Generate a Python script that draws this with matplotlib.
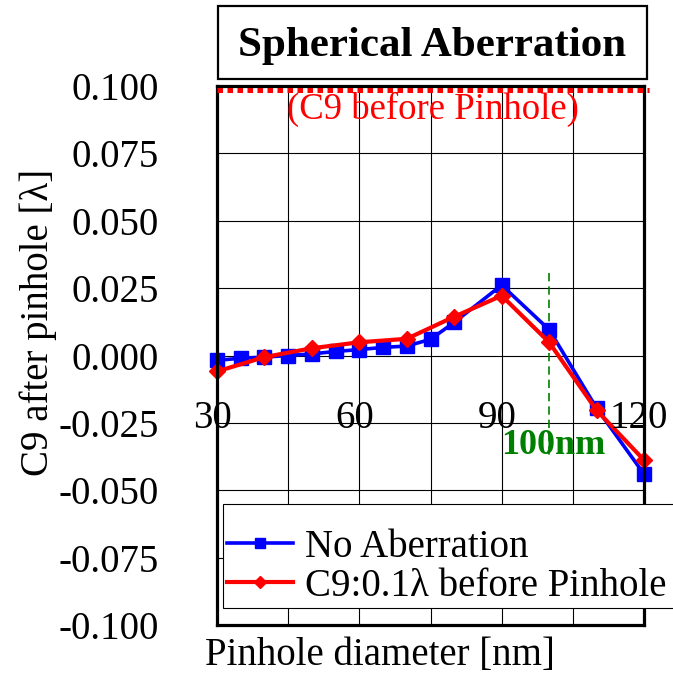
import matplotlib
matplotlib.use("Agg")
from matplotlib import pyplot as plt
from matplotlib.patches import Rectangle
import matplotlib.transforms as mtransforms
import numpy as np

plt.rcParams['font.family'] = ['Liberation Serif', 'DejaVu Serif']

# data
x_blue = [30, 35, 40, 45, 50, 55, 60, 65, 70, 75, 80, 90, 100, 110, 120]
y_blue = [-0.0018, -0.0010, -0.0006, 0.0000, 0.0006, 0.0015, 0.0022, 0.0030,
          0.0035, 0.0060, 0.0123, 0.0261, 0.0096, -0.0195, -0.0440]
x_red = [30, 40, 50, 60, 70, 80, 90, 100, 110, 120]
y_red = [-0.0059, -0.0006, 0.0027, 0.0049, 0.0062, 0.0144, 0.0222, 0.0049,
         -0.0203, -0.0388]
before_level = 0.100
pinhole_mark = 100
x_ticks = [30, 60, 90, 120]
y_ticks = [-0.100, -0.075, -0.050, -0.025, 0.000, 0.025, 0.050, 0.075, 0.100]

W, H = 673, 676
fig = plt.figure(figsize=(W / 100, H / 100), dpi=100)
ax = fig.add_axes([217 / W, 1 - 625 / H, 427 / W, 539 / H])

ax.set_xlim(30, 120)
ax.set_ylim(-0.100, 0.100)

# grid
ax.set_xticks(np.arange(30, 121, 15))
ax.set_yticks(y_ticks)
ax.grid(True, color='black', linewidth=0.8, zorder=0)
ax.tick_params(axis='both', length=0)
ax.tick_params(axis='x', labelbottom=False)
ax.set_yticklabels([f"{v:.3f}" for v in y_ticks], fontsize=28)
ax.tick_params(axis='y', pad=42)
for s in ax.spines.values():
    s.set_linewidth(2.3)
    s.set_color('black')
    s.set_zorder(5)

line1, = ax.plot(x_blue, y_blue, color='blue', marker='s', markersize=10.5,
                 linewidth=2.6, zorder=3, clip_on=False)
line2, = ax.plot(x_red, y_red, color='red', marker='D', markersize=8.5,
                 linewidth=3.0, zorder=4, clip_on=False)

# reference level before pinhole (drawn just under the top frame)
shift_down = mtransforms.offset_copy(ax.transData, fig=fig, x=0, y=-4, units='dots')
ax.plot([30, 121], [before_level, before_level], color='red', linewidth=3.6,
        linestyle=(0, (1.1, 0.9)), zorder=6, clip_on=False, transform=shift_down)
ax.text(75.5, 0.0912, "(C9 before Pinhole)", color='red', fontsize=26.5,
        ha='center', va='center', zorder=6)

# 100 nm marker
ax.plot([pinhole_mark, pinhole_mark], [0.0306, -0.038], color='green',
        linewidth=1.2, linestyle=(0, (5, 3)), zorder=2)
ax.text(100.9, -0.0334, "100nm", color='green', fontsize=26, fontweight='bold',
        ha='center', va='center', zorder=6)

# x tick labels sit inside the plot
for xv in x_ticks:
    ax.text(xv - 1, -0.0234, str(xv), fontsize=28, ha='center', va='center',
            zorder=7, clip_on=False)

# title box
fig.patches.append(Rectangle((218 / W, 1 - 79 / H), 429 / W, 73 / H,
                             transform=fig.transFigure, fill=False,
                             edgecolor='black', linewidth=1.6))
fig.text(432.5 / W, 1 - 46 / H, "Spherical Aberration", fontsize=31,
         fontweight='bold', ha='center', va='center')

fig.text(38 / W, 1 - 322 / H, "C9 after pinhole [\u03bb]", fontsize=28,
         rotation=90, ha='center', va='center')
fig.text(380 / W, 1 - 655 / H, "Pinhole diameter [nm]", fontsize=28,
         ha='center', va='center')

# legend box runs off the right edge of the figure
fig.patches.append(Rectangle((223 / W, 1 - 608 / H), 470 / W, 104 / H,
                             transform=fig.transFigure, facecolor='white',
                             edgecolor='black', linewidth=0.8, zorder=8))
line1.set_label("No Aberration")
line2.set_label("C9:0.1\u03bb before Pinhole")
leg = fig.legend(handles=[line1, line2], loc='center left',
                 bbox_to_anchor=(227 / W, 1 - 567 / H), fontsize=28,
                 frameon=False, handlelength=1.7, handletextpad=0.3,
                 borderpad=0, labelspacing=0.05, markerscale=0.75,
                 borderaxespad=0)
leg.set_zorder(9)

fig.savefig("out.png", dpi=100)
